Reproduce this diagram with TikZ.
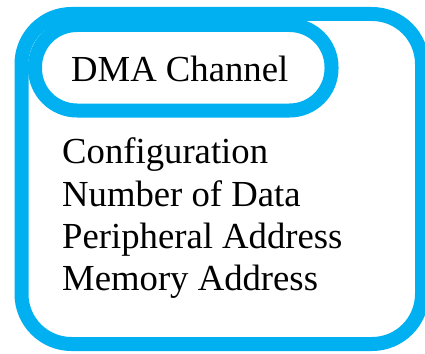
\documentclass[tikz,border=0pt]{standalone}
\usepackage{fontspec}
\setmainfont{Liberation Serif}
\definecolor{dmablue}{RGB}{0,176,240}
\begin{document}
\begin{tikzpicture}[x=1pt,y=-1pt,
  frame/.style={draw=dmablue,line width=14pt},
  label/.style={anchor=base west,inner sep=0pt,font=\fontsize{36.7}{42}\selectfont,text=black}]
\useasboundingbox (0,0) rectangle (425,353);
\begin{scope}
\clip (0,0) rectangle (425,353);
% outer channel frame
\draw[frame,rounded corners=50pt] (21.5,14) rectangle (422,344);
% title capsule
\draw[frame,rounded corners=42pt] (35,25) rectangle (331.5,110.5);
\end{scope}
\node[label] (title) at (71,81) {DMA Channel};
\node[label] (cfg) at (62,163) {Configuration};
\node[label] (num) at (62,206) {Number of Data};
\node[label] (per) at (62,248) {Peripheral Address};
\node[label] (mem) at (62,290) {Memory Address};
\end{tikzpicture}
\end{document}
